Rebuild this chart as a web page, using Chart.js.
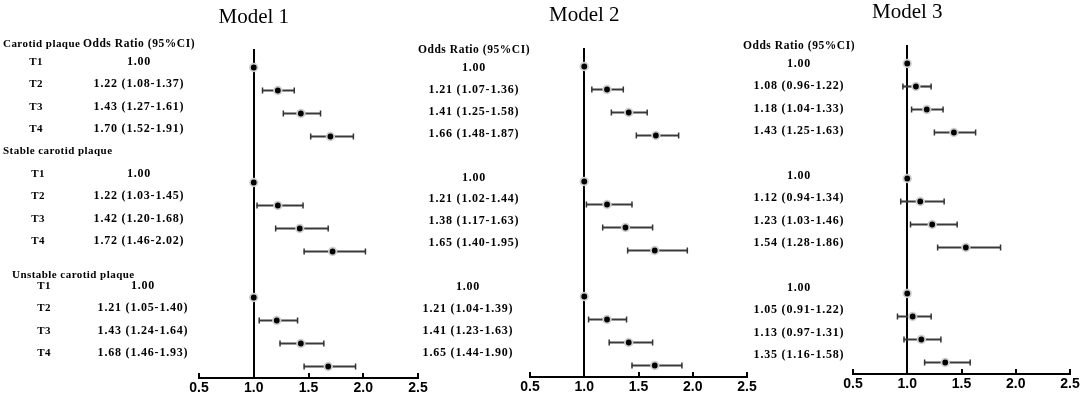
<!DOCTYPE html>
<html>
<head>
<meta charset="utf-8">
<title>Odds ratios of carotid plaque by tertile</title>
<script src="https://cdn.jsdelivr.net/npm/chart.js@4.4.0/dist/chart.umd.min.js"></script>
<style>
  html, body { margin: 0; padding: 0; background: #fff; }
  #wrap { position: relative; width: 1084px; height: 400px; }
  #wrap canvas { position: absolute; left: 0; top: 0; }
</style>
</head>
<body>
<div id="wrap">
  <canvas id="model1" width="1084" height="400"></canvas>
  <canvas id="model2" width="1084" height="400"></canvas>
  <canvas id="model3" width="1084" height="400"></canvas>
</div>
<script>
// Groups and tertile rows
const groupNames = ['Carotid plaque', 'Stable carotid plaque', 'Unstable carotid plaque'];
const tertiles = ['T1', 'T2', 'T3', 'T4'];
const xTicks = [0.5, 1.0, 1.5, 2.0, 2.5];

// Odds ratios and 95% CI: one row per group, one value per tertile (T1 = reference)
const model1OR   = [[1.00, 1.22, 1.43, 1.70], [1.00, 1.22, 1.42, 1.72], [1.00, 1.21, 1.43, 1.68]];
const model1Low  = [[null, 1.08, 1.27, 1.52], [null, 1.03, 1.20, 1.46], [null, 1.05, 1.24, 1.46]];
const model1High = [[null, 1.37, 1.61, 1.91], [null, 1.45, 1.68, 2.02], [null, 1.40, 1.64, 1.93]];

const model2OR   = [[1.00, 1.21, 1.41, 1.66], [1.00, 1.21, 1.38, 1.65], [1.00, 1.21, 1.41, 1.65]];
const model2Low  = [[null, 1.07, 1.25, 1.48], [null, 1.02, 1.17, 1.40], [null, 1.04, 1.23, 1.44]];
const model2High = [[null, 1.36, 1.58, 1.87], [null, 1.44, 1.63, 1.95], [null, 1.39, 1.63, 1.90]];

const model3OR   = [[1.00, 1.08, 1.18, 1.43], [1.00, 1.12, 1.23, 1.54], [1.00, 1.05, 1.13, 1.35]];
const model3Low  = [[null, 0.96, 1.04, 1.25], [null, 0.94, 1.03, 1.28], [null, 0.91, 0.97, 1.16]];
const model3High = [[null, 1.22, 1.33, 1.63], [null, 1.34, 1.46, 1.86], [null, 1.22, 1.31, 1.58]];

// Build the row list: 4 tertiles per group with one empty row between groups
const rows = [];
groupNames.forEach((g, gi) => {
  if (gi > 0) rows.push({ key: 'gap ' + gi, group: -1, t: -1 });
  tertiles.forEach((t, ti) => rows.push({ key: g + ' ' + t, group: gi, t: ti }));
});
const rowKeys = rows.map(r => r.key);

// Panel layout (pixels on the 1084x400 page)
const panels = [
  { id: 'model1', title: 'Model 1', or: model1OR, lo: model1Low, hi: model1High,
    area: { left: 199, right: 418, top: 56, bottom: 378 }, titleY: 23,
    textTop: 62, textStep: 22.4, labelX: [36, 38, 44], orX: [139, 139, 143],
    groupHeaders: { x: [3, 3, 12], row: [-0.8, 4, 9.5] } },
  { id: 'model2', title: 'Model 2', or: model2OR, lo: model2Low, hi: model2High,
    area: { left: 530, right: 747, top: 55, bottom: 377 }, titleY: 21,
    textTop: 68, textStep: 21.9, labelX: null, orX: [474, 474, 468], groupHeaders: null },
  { id: 'model3', title: 'Model 3', or: model3OR, lo: model3Low, hi: model3High,
    area: { left: 853, right: 1070, top: 52, bottom: 374 }, titleY: 18,
    textTop: 64, textStep: 22.4, labelX: null, orX: [799, 799, 799], groupHeaders: null }
];

const labelFont = 'bold 11px "Liberation Serif"';
const headerFont = 'bold 11.5px "Liberation Serif"';
const numberFont = 'bold 12px "Liberation Serif"';

function fmt(v) { return v.toFixed(2); }

function setSpacing(ctx, s) {
  if ('letterSpacing' in ctx) ctx.letterSpacing = s;
}

// Draws the reference line, inward tick marks, title and the text columns
const forestText = {
  id: 'forestText',
  beforeDatasetsDraw(chart) {
    const ctx = chart.ctx, x = chart.scales.x, area = chart.chartArea;
    const xr = Math.round(x.getPixelForValue(1.0));
    ctx.save();
    ctx.strokeStyle = '#000';
    ctx.lineWidth = 2;
    ctx.beginPath();
    ctx.moveTo(xr, area.top - 7);
    ctx.lineTo(xr, area.bottom);
    ctx.stroke();
    ctx.restore();
  },
  afterDraw(chart, args, opts) {
    const p = opts.panel;
    const ctx = chart.ctx, x = chart.scales.x, area = chart.chartArea;
    ctx.save();
    // tick marks pointing up from the axis
    ctx.strokeStyle = '#000';
    ctx.lineWidth = 2;
    xTicks.forEach(v => {
      const px = Math.round(x.getPixelForValue(v));
      ctx.beginPath();
      ctx.moveTo(px, area.bottom);
      ctx.lineTo(px, area.bottom - 5);
      ctx.stroke();
    });
    // title
    ctx.fillStyle = '#000';
    ctx.font = '21px "Liberation Serif"';
    ctx.textAlign = 'center';
    ctx.textBaseline = 'alphabetic';
    ctx.fillText(p.title, x.getPixelForValue(1.0), p.titleY);
    // text columns
    ctx.textBaseline = 'middle';
    const rowY = i => p.textTop + i * p.textStep;
    ctx.font = headerFont;
    setSpacing(ctx, '0.55px');
    ctx.textAlign = 'center';
    ctx.fillText('Odds Ratio (95%CI)', p.orX[0], rowY(-0.8));
    ctx.font = labelFont;
    setSpacing(ctx, '0.45px');
    if (p.groupHeaders) {
      ctx.textAlign = 'left';
      groupNames.forEach((g, gi) => {
        ctx.fillText(g, p.groupHeaders.x[gi], rowY(p.groupHeaders.row[gi]));
      });
    }
    rows.forEach((r, i) => {
      if (r.group < 0) return;
      const y = rowY(i);
      ctx.textAlign = 'center';
      if (p.labelX) {
        ctx.font = labelFont;
        setSpacing(ctx, '0.45px');
        ctx.fillText(tertiles[r.t], p.labelX[r.group], y);
      }
      const or = p.or[r.group][r.t];
      const lo = p.lo[r.group][r.t];
      const hi = p.hi[r.group][r.t];
      const s = lo === null ? fmt(or) : fmt(or) + ' (' + fmt(lo) + '-' + fmt(hi) + ')';
      ctx.font = numberFont;
      setSpacing(ctx, '0.8px');
      ctx.fillText(s, p.orX[r.group], y);
    });
    ctx.restore();
  }
};

function buildChart(p) {
  const orData = rows.map(r => r.group < 0 ? null : p.or[r.group][r.t]);
  const loData = rows.map(r => r.group < 0 ? null : p.lo[r.group][r.t]);
  const hiData = rows.map(r => r.group < 0 ? null : p.hi[r.group][r.t]);
  const ciData = rows.map((r, i) => loData[i] === null ? null : [loData[i], hiData[i]]);

  return new Chart(document.getElementById(p.id), {
    type: 'bar',
    data: {
      labels: rowKeys,
      datasets: [
        {
          type: 'line', label: 'OR', data: orData, indexAxis: 'y', showLine: false,
          pointStyle: 'circle', pointRadius: 3.8, pointBorderWidth: 1.8,
          pointBackgroundColor: '#000', pointBorderColor: '#cfcfcf', order: 0
        },
        {
          type: 'line', label: 'lower', data: loData, indexAxis: 'y', showLine: false,
          pointStyle: 'line', pointRotation: 90, pointRadius: 3, pointBorderWidth: 1.5,
          pointBorderColor: '#333', order: 1
        },
        {
          type: 'line', label: 'upper', data: hiData, indexAxis: 'y', showLine: false,
          pointStyle: 'line', pointRotation: 90, pointRadius: 3, pointBorderWidth: 1.5,
          pointBorderColor: '#333', order: 1
        },
        {
          type: 'bar', label: 'CI', data: ciData, indexAxis: 'y',
          backgroundColor: '#3a3a3a', barThickness: 1.5, borderSkipped: false, order: 2
        }
      ]
    },
    options: {
      indexAxis: 'y',
      responsive: false,
      animation: false,
      layout: {
        padding: { left: p.area.left, right: 1084 - p.area.right, top: p.area.top, bottom: 0 }
      },
      scales: {
        x: {
          type: 'linear', min: 0.5, max: 2.5,
          afterBuildTicks: s => { s.ticks = xTicks.map(v => ({ value: v })); },
          afterFit: s => { s.height = 400 - p.area.bottom; },
          grid: { display: true, drawOnChartArea: false, drawTicks: false },
          border: { display: true, color: '#000', width: 2 },
          ticks: {
            padding: 2, color: '#000',
            font: { family: '"Liberation Sans", Arial', size: 14, weight: 'bold' },
            callback: v => Number(v).toFixed(1)
          }
        },
        y: {
          type: 'category', labels: rowKeys, offset: true, display: false,
          grid: { display: false }
        }
      },
      plugins: {
        legend: { display: false },
        tooltip: { enabled: false },
        forestText: { panel: p }
      }
    },
    plugins: [forestText]
  });
}

panels.forEach(buildChart);
</script>
</body>
</html>
